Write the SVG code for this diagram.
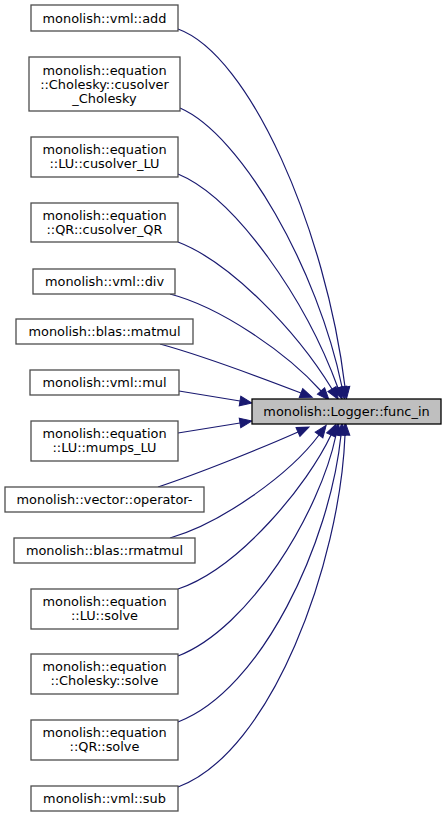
<svg xmlns="http://www.w3.org/2000/svg" width="447" height="817" viewBox="0 0 447 817">
<defs>
<style>
.n rect{fill:#ffffff;stroke:#4d4d4d;stroke-width:1.3}
.t rect{fill:#bfbfbf;stroke:#000000;stroke-width:1.3}
text{font-family:"DejaVu Sans","Noto Sans",sans-serif;font-size:12.9px;fill:#000000;text-anchor:middle}
.e path{fill:none;stroke:#191970;stroke-width:1.2;marker-end:url(#ah)}
</style>
<marker id="ah" markerUnits="userSpaceOnUse" orient="auto" refX="0" refY="0" markerWidth="14" markerHeight="12" overflow="visible">
<path d="M0,-4.8 L12,0 L0,4.8 Z" fill="#191970" stroke="#191970" stroke-width="1"/>
</marker>
</defs>
<rect width="447" height="817" fill="#ffffff"/>
<g id="edges" class="e">
<path d="M178,29 C250,55 326,230 345,387"/>
<path d="M180,108 C242,135 318,270 342,387"/>
<path d="M178,174 C236,198 306,300 338,388"/>
<path d="M178,242 C230,262 296,330 332,389"/>
<path d="M170,294 C220,307 286,352 321,391"/>
<path d="M160,344 C200,355 262,378 301,393"/>
<path d="M179,391 L240,401"/>
<path d="M178,433 L240,423"/>
<path d="M158,487 C200,473 262,448 298,432"/>
<path d="M170,538 C222,523 290,474 319,435"/>
<path d="M178,589 C240,568 308,484 331,435"/>
<path d="M178,656 C250,628 320,512 336,435"/>
<path d="M178,722 C262,690 330,542 341,435"/>
<path d="M178,787 C272,752 340,562 345,435"/>
</g>
<g id="target" class="t">
<rect x="252" y="399" width="189" height="25"/>
<text x="346.5" y="416">monolish::Logger::func_in</text>
</g>
<g id="n_add" class="n">
<rect x="31" y="5" width="147" height="26"/>
<text x="104.5" y="22.5">monolish::vml::add</text>
</g>
<g id="n_cusolver_cholesky" class="n">
<rect x="29" y="57" width="151" height="54"/>
<text x="104.5" y="74.5">monolish::equation</text>
<text x="104.5" y="88.5">::Cholesky::cusolver</text>
<text x="104.5" y="102.5">_Cholesky</text>
</g>
<g id="n_cusolver_lu" class="n">
<rect x="31" y="137" width="147" height="40"/>
<text x="104.5" y="154">monolish::equation</text>
<text x="104.5" y="168">::LU::cusolver_LU</text>
</g>
<g id="n_cusolver_qr" class="n">
<rect x="31" y="203" width="147" height="39"/>
<text x="104.5" y="219.5">monolish::equation</text>
<text x="104.5" y="233.5">::QR::cusolver_QR</text>
</g>
<g id="n_div" class="n">
<rect x="33" y="269" width="142" height="25"/>
<text x="104.5" y="286">monolish::vml::div</text>
</g>
<g id="n_matmul" class="n">
<rect x="16" y="319" width="177" height="25"/>
<text x="104.5" y="336">monolish::blas::matmul</text>
</g>
<g id="n_mul" class="n">
<rect x="30" y="370" width="149" height="25"/>
<text x="104.5" y="387">monolish::vml::mul</text>
</g>
<g id="n_mumps_lu" class="n">
<rect x="31" y="421" width="147" height="40"/>
<text x="104.5" y="438">monolish::equation</text>
<text x="104.5" y="452">::LU::mumps_LU</text>
</g>
<g id="n_operator_minus" class="n">
<rect x="5" y="487" width="199" height="25"/>
<text x="104.5" y="504">monolish::vector::operator-</text>
</g>
<g id="n_rmatmul" class="n">
<rect x="14" y="538" width="181" height="25"/>
<text x="104.5" y="555">monolish::blas::rmatmul</text>
</g>
<g id="n_lu_solve" class="n">
<rect x="31" y="589" width="147" height="40"/>
<text x="104.5" y="606">monolish::equation</text>
<text x="104.5" y="620">::LU::solve</text>
</g>
<g id="n_cholesky_solve" class="n">
<rect x="31" y="654" width="147" height="40"/>
<text x="104.5" y="671">monolish::equation</text>
<text x="104.5" y="685">::Cholesky::solve</text>
</g>
<g id="n_qr_solve" class="n">
<rect x="31" y="720" width="147" height="40"/>
<text x="104.5" y="737">monolish::equation</text>
<text x="104.5" y="751">::QR::solve</text>
</g>
<g id="n_sub" class="n">
<rect x="31" y="786" width="147" height="25"/>
<text x="104.5" y="803">monolish::vml::sub</text>
</g>
</svg>
